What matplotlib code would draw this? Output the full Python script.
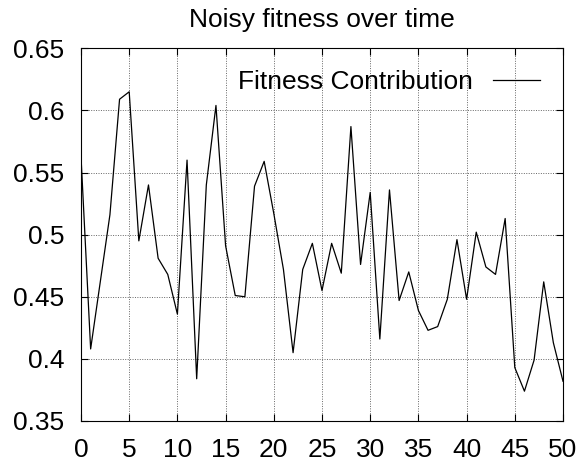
import matplotlib
matplotlib.use("Agg")
import matplotlib.pyplot as plt
import numpy as np

plt.rcParams['font.family'] = ['Liberation Sans', 'DejaVu Sans']

title = "Noisy fitness over time"
series_label = "Fitness Contribution"
x_vals = list(range(51))
fitness = [0.563, 0.408, 0.462, 0.516, 0.609, 0.615, 0.495, 0.540, 0.481, 0.468,
           0.436, 0.560, 0.384, 0.540, 0.604, 0.491, 0.451, 0.450, 0.539, 0.559,
           0.517, 0.472, 0.405, 0.472, 0.493, 0.455, 0.493, 0.469, 0.587, 0.476,
           0.534, 0.416, 0.536, 0.447, 0.470, 0.439, 0.423, 0.426, 0.448, 0.496,
           0.448, 0.502, 0.474, 0.468, 0.513, 0.393, 0.374, 0.399, 0.462, 0.413,
           0.382]
x_ticks = [0, 5, 10, 15, 20, 25, 30, 35, 40, 45, 50]
y_ticks = [0.35, 0.4, 0.45, 0.5, 0.55, 0.6, 0.65]
y_tick_labels = ["0.35", "0.4", "0.45", "0.5", "0.55", "0.6", "0.65"]

W, H = 579, 461
fig = plt.figure(figsize=(W / 100, H / 100), dpi=100)
ax = fig.add_axes([81 / W, 1 - 421 / H, (563 - 81) / W, (421 - 48.3) / H])

ax.plot(x_vals, fitness, color='black', lw=0.9, label=series_label)
ax.set_xlim(0, 50)
ax.set_ylim(0.35, 0.65)
ax.set_xticks(x_ticks)
ax.set_xticklabels([str(t) for t in x_ticks])
ax.set_yticks(y_ticks)
ax.set_yticklabels(y_tick_labels)
ax.tick_params(direction='in', length=5, width=0.8, top=True, right=True,
               labelsize=19, colors='black')
ax.tick_params(axis='x', pad=12)
ax.tick_params(axis='y', pad=12)
ax.grid(True, linestyle=(0, (1, 1.5)), color='0.4', lw=0.7)
for s in ax.spines.values():
    s.set_linewidth(0.8)
    s.set_color('black')
ax.set_title(title, fontsize=19, pad=15)

leg = ax.legend(loc='center right', bbox_to_anchor=((540 - 81) / 482, (421 - 82) / 372.7),
                frameon=False, fontsize=19, markerfirst=False, handlelength=1.8,
                handletextpad=0.75, borderaxespad=0, borderpad=0)

fig.savefig("out.png", dpi=100)
